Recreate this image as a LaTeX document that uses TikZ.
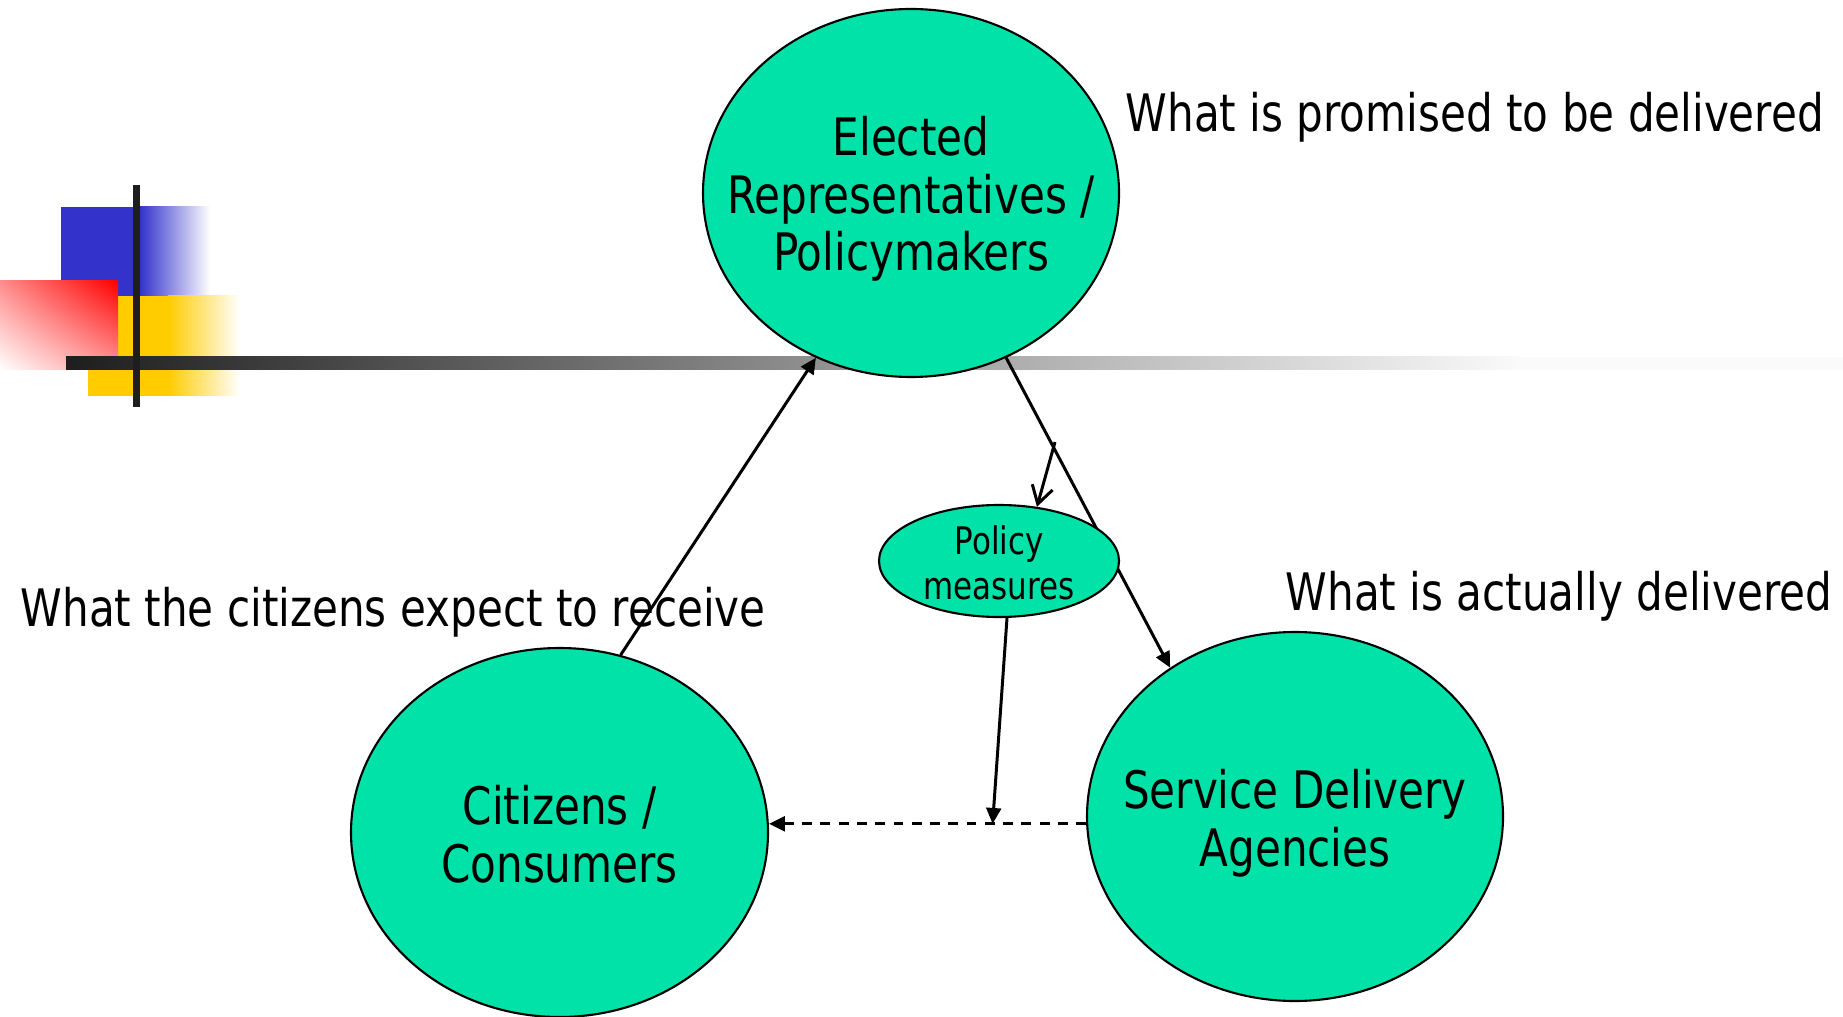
\documentclass[tikz,border=0pt]{standalone}
\usepackage{fontspec}
\setmainfont{DejaVu Sans}[FakeStretch=0.815]
\usepackage{tikz}
\usetikzlibrary{shapes,arrows.meta,positioning,shadings}
\definecolor{blobgreen}{RGB}{0,226,168}
\definecolor{barblue}{RGB}{51,51,204}
\definecolor{bargold}{RGB}{255,204,0}
\definecolor{bardark}{RGB}{30,30,30}
\definecolor{barpale}{RGB}{250,250,250}

\tikzset{
  blob/.style={draw, ellipse, fill=blobgreen, line width=0.6pt, inner sep=0pt},
  blobtext/.style={align=center, inner sep=0pt, font=\fontsize{14.7}{16.4}\selectfont},
  note/.style={anchor=base west, inner sep=0pt, font=\fontsize{14.7}{16.4}\selectfont},
  flow/.style={-{Triangle[length=4.5pt, width=4.2pt]}, line width=0.85pt},
}

\begin{document}
\begin{tikzpicture}
\useasboundingbox (0,0) rectangle (18.43,-10.17);

% corner blocks and the long bar
\fill[barblue] (0.61,-2.07) rectangle (1.40,-2.96);
\shade[left color=barblue, right color=white] (1.40,-2.07) rectangle (2.10,-2.96);
\fill[bargold] (0.88,-2.96) rectangle (1.68,-3.96);
\shade[left color=bargold, right color=white] (1.68,-2.96) rectangle (2.40,-3.96);
\shade[upper left=red!45, upper right=red, lower left=white, lower right=red!40] (0,-2.81) rectangle (1.18,-3.70);
\shade[left color=bardark, right color=barpale] (0.66,-3.57) rectangle (15.20,-3.70);
\fill[barpale] (15.20,-3.57) rectangle (18.43,-3.70);
\fill[bardark] (1.33,-1.85) rectangle (1.40,-4.07);

%============
\node[blob, minimum width=4.16cm, minimum height=3.68cm] (elected) at (9.11,-1.93) {};
\node[blob, minimum width=4.17cm, minimum height=3.69cm] (citizens) at (5.595,-8.325) {};
\node[blob, minimum width=4.16cm, minimum height=3.69cm] (service) at (12.95,-8.165) {};
\node[blobtext, yshift=-0.06cm] (electedtxt) at (elected) {Elected\\Representatives /\\Policymakers};
\node[blobtext, yshift=-0.02cm] (citizenstxt) at (citizens) {Citizens /\\Consumers};
\node[blobtext, yshift=-0.07cm] (servicetxt) at (service) {Service Delivery\\Agencies};

\draw[flow] (elected.-60) -- (service.130);

\node[blob, minimum width=2.40cm, minimum height=1.12cm] (policy) at (9.99,-5.61) {};
\node[blobtext, font=\fontsize{10.8}{12.8}\selectfont, yshift=-0.02cm] (policytxt) at (policy) {Policy\\measures};

%==========
\coordinate (branch) at (10.55,-4.42);
\draw[-{Straight Barb[length=5pt, width=6pt]}, line width=0.85pt] (branch) -- (policy.55);
\draw[flow] (citizens.71) -- (elected.240);
\draw[flow, dash pattern=on 2.8pt off 2.4pt] (service.182) -- (service.182 -| citizens.east) coordinate[pos=0.295] (meet);
\draw[flow] (policy.-82) -- (meet);

\node[note] (promised) at (11.25,-1.316) {What is promised to be delivered};
\node[note] (expected) at (0.20,-6.265) {What the citizens expect to receive};
\node[note] (delivered) at (12.85,-6.10) {What is actually delivered};

\end{tikzpicture}
\end{document}
